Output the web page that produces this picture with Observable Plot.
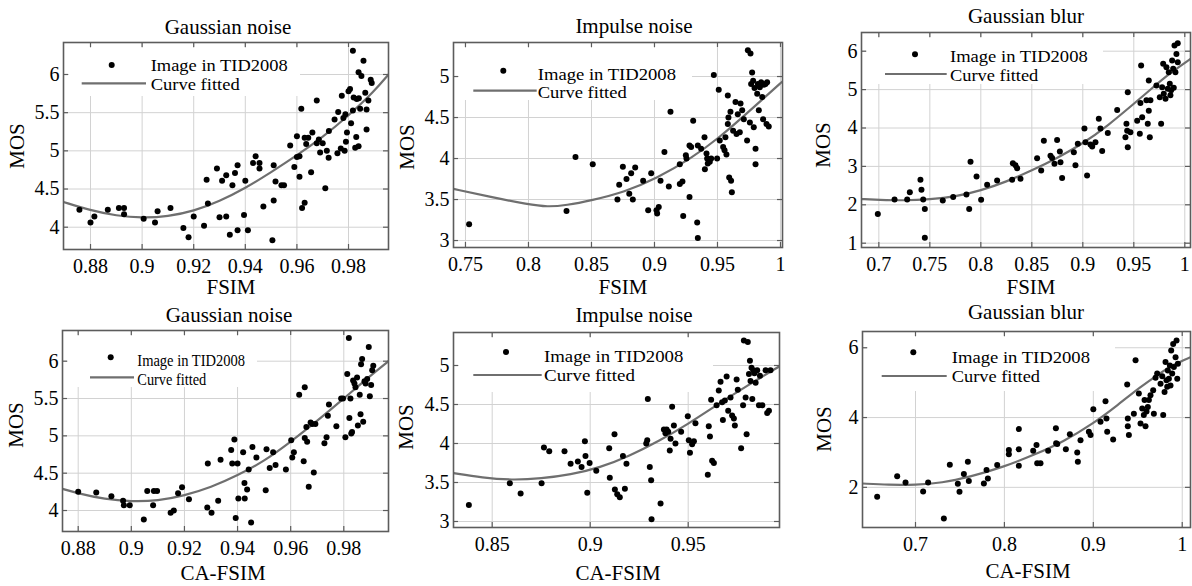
<!DOCTYPE html>
<html><head><meta charset="utf-8">
<script src="https://cdn.jsdelivr.net/npm/d3@7"></script>
<script src="https://cdn.jsdelivr.net/npm/@observablehq/plot@0.6"></script>
<style>
html,body{margin:0;padding:0;background:#fff;}
#root{position:relative;width:1192px;height:586px;overflow:hidden;font-family:"Liberation Serif","Times New Roman",serif;}
#root svg{position:absolute;overflow:visible;}
#root svg, #root svg text{font-family:"Liberation Serif","Times New Roman",serif !important;}
</style></head><body><div id="root"></div>
<script>
// ---------- data ----------
const titles = ["Gaussian noise","Impulse noise","Gaussian blur","Gaussian noise","Impulse noise","Gaussian blur"];
const xLabels = ["FSIM","FSIM","FSIM","CA-FSIM","CA-FSIM","CA-FSIM"];
const yLabel = "MOS";
const legendLabels = ["Image in TID2008","Curve fitted"];

const xTicksGN = [0.88,0.9,0.92,0.94,0.96,0.98];
const yTicksGN = [4,4.5,5,5.5,6];
const xTicksIN = [0.75,0.8,0.85,0.9,0.95,1];
const yTicksIN = [3,3.5,4,4.5,5];
const xTicksGB = [0.7,0.75,0.8,0.85,0.9,0.95,1];
const yTicksGB = [1,2,3,4,5,6];
const xTicksGN2 = [0.88,0.9,0.92,0.94,0.96,0.98];
const yTicksGN2 = [4,4.5,5,5.5,6];
const xTicksIN2 = [0.85,0.9,0.95];
const yTicksIN2 = [3,3.5,4,4.5,5];
const xTicksGB2 = [0.7,0.8,0.9,1];
const yTicksGB2 = [2,4,6];

const gnFSIM = [[0.8757,4.23],[0.88,4.06],[0.8815,4.14],[0.8867,4.23],[0.891,4.25],[0.893,4.25],[0.893,4.17],[0.9006,4.11],[0.905,4.06],[0.906,4.21],[0.911,4.25],[0.916,3.99],[0.918,3.87],[0.92,4.14],[0.924,4.02],[0.925,4.62],[0.9255,4.31],[0.929,4.77],[0.93,4.13],[0.931,4.61],[0.9326,4.68],[0.9326,4.14],[0.934,3.9],[0.935,4.55],[0.936,4.71],[0.937,4.81],[0.937,3.96],[0.94,4.61],[0.9395,4.16],[0.941,3.96],[0.943,4.84],[0.944,4.93],[0.9455,4.84],[0.9455,4.77],[0.947,4.27],[0.9505,3.83],[0.951,4.81],[0.951,4.35],[0.9517,4.6],[0.954,4.55],[0.955,4.55],[0.9574,5.07],[0.959,4.79],[0.96,5.19],[0.96,4.92],[0.961,4.93],[0.961,4.66],[0.9617,5.55],[0.962,4.25],[0.963,4.32],[0.963,5.17],[0.9636,5.09],[0.9644,5.17],[0.9655,4.72],[0.966,5.24],[0.9677,5.66],[0.9677,5.1],[0.9685,5.15],[0.969,4.98],[0.97,5.1],[0.971,4.51],[0.9716,5.0],[0.9723,4.91],[0.9724,5.26],[0.9746,5.41],[0.9757,4.97],[0.976,5.51],[0.977,5.03],[0.9774,5.72],[0.978,5.43],[0.9785,5.0],[0.9788,5.48],[0.979,5.12],[0.9794,5.24],[0.98,5.78],[0.9806,5.81],[0.981,5.36],[0.9817,5.53],[0.9817,6.31],[0.982,5.7],[0.9826,5.04],[0.983,5.18],[0.9832,5.68],[0.9839,5.06],[0.9839,6.03],[0.984,5.69],[0.9845,5.55],[0.985,5.98],[0.9858,6.18],[0.9865,5.76],[0.987,5.54],[0.987,5.28],[0.9877,5.66],[0.9886,5.93],[0.989,5.89]];
const gnFSIMFit = [[0.8695,4.33],[0.88,4.22],[0.89,4.15],[0.9,4.12],[0.91,4.14],[0.92,4.21],[0.93,4.34],[0.94,4.51],[0.95,4.72],[0.96,4.94],[0.97,5.18],[0.98,5.46],[0.99,5.78],[0.9955,6.0]];

const inFSIM = [[0.7529,3.20],[0.8302,3.36],[0.8373,4.02],[0.851,3.93],[0.8706,3.50],[0.872,3.68],[0.8749,3.90],[0.8778,3.75],[0.88,3.57],[0.8815,3.82],[0.8828,3.50],[0.8847,3.89],[0.891,3.73],[0.895,3.37],[0.8974,3.82],[0.9016,3.37],[0.9021,3.33],[0.9034,3.41],[0.9048,3.73],[0.9079,4.08],[0.9114,3.66],[0.9127,4.57],[0.9201,3.93],[0.9201,3.69],[0.9222,3.72],[0.9228,3.30],[0.9249,4.04],[0.9254,4.0],[0.9278,3.53],[0.9278,4.16],[0.9291,4.14],[0.9307,4.46],[0.9339,3.22],[0.9344,3.03],[0.9344,4.16],[0.937,4.12],[0.9397,4.26],[0.94,3.87],[0.9413,4.06],[0.9418,4.0],[0.9423,3.94],[0.9439,3.96],[0.945,4.0],[0.9471,5.02],[0.9497,4.0],[0.951,4.84],[0.9518,4.22],[0.9545,4.14],[0.9556,4.10],[0.9563,4.26],[0.9571,4.05],[0.9582,4.77],[0.9582,4.42],[0.9587,4.5],[0.9593,3.77],[0.9603,4.57],[0.9608,3.73],[0.9614,3.59],[0.9624,4.34],[0.9643,4.69],[0.9651,4.30],[0.9661,4.54],[0.9677,4.32],[0.9683,4.67],[0.9696,4.59],[0.9709,4.48],[0.9735,4.22],[0.9741,5.32],[0.9762,5.28],[0.9757,4.44],[0.9767,4.91],[0.9775,5.05],[0.9783,4.95],[0.9788,4.38],[0.9794,4.86],[0.9802,4.12],[0.9802,3.93],[0.9815,4.79],[0.982,4.91],[0.9828,4.59],[0.9836,4.87],[0.9847,4.93],[0.9855,4.75],[0.9862,4.48],[0.9868,4.90],[0.9881,4.91],[0.9889,4.42],[0.9894,4.93],[0.9907,4.39]];
const inFSIMFit = [[0.7405,3.63],[0.77,3.53],[0.8,3.44],[0.815,3.41],[0.83,3.43],[0.85,3.49],[0.876,3.59],[0.902,3.76],[0.929,4.0],[0.951,4.25],[0.971,4.52],[0.987,4.74],[1.0016,4.94]];

const gbFSIM = [[0.699,1.76],[0.7154,2.14],[0.7278,2.14],[0.7304,2.33],[0.7408,2.65],[0.7418,2.39],[0.7435,2.14],[0.7451,1.89],[0.7451,1.14],[0.7627,2.11],[0.7729,2.20],[0.7859,2.27],[0.7886,1.89],[0.7899,3.12],[0.7958,2.74],[0.8003,2.13],[0.8062,2.52],[0.816,2.63],[0.8307,2.65],[0.8314,3.08],[0.834,3.03],[0.8356,2.95],[0.8389,2.68],[0.8552,3.21],[0.8592,2.89],[0.8618,3.67],[0.8683,3.28],[0.8699,3.22],[0.8722,3.07],[0.8748,3.69],[0.8775,3.39],[0.8781,3.11],[0.8797,2.70],[0.8912,3.37],[0.8928,3.03],[0.8951,3.59],[0.9016,3.99],[0.9026,3.63],[0.9042,2.76],[0.9075,3.57],[0.9092,3.52],[0.9124,3.63],[0.9157,4.24],[0.9173,3.99],[0.919,3.40],[0.9245,3.87],[0.9337,4.47],[0.9418,3.76],[0.9428,4.11],[0.9435,3.93],[0.9441,4.93],[0.9441,3.50],[0.9467,3.89],[0.9533,4.19],[0.9559,3.85],[0.9565,4.65],[0.9572,5.63],[0.9582,4.28],[0.9624,4.72],[0.9637,4.11],[0.9647,4.45],[0.9647,5.24],[0.9657,3.76],[0.9663,4.72],[0.9722,5.11],[0.9755,4.80],[0.9768,4.11],[0.9778,5.06],[0.9788,5.67],[0.9794,4.89],[0.9811,4.76],[0.982,5.58],[0.9833,5.02],[0.9843,5.45],[0.9853,5.15],[0.9859,4.85],[0.9866,4.98],[0.9876,5.76],[0.9886,5.54],[0.9892,5.05],[0.9899,6.15],[0.9908,5.45],[0.9918,5.93],[0.9931,6.21],[0.9931,5.71]];
const gbFSIMFit = [[0.683,2.15],[0.7,2.13],[0.725,2.11],[0.75,2.14],[0.775,2.21],[0.8,2.37],[0.825,2.6],[0.85,2.89],[0.875,3.22],[0.9,3.59],[0.925,4.07],[0.95,4.63],[0.9663,5.0],[0.985,5.42],[1.0056,5.8]];

const gnCA = [[0.88,4.25],[0.8868,4.24],[0.8925,4.19],[0.8969,4.13],[0.8972,4.07],[0.8994,4.07],[0.9047,3.88],[0.906,4.26],[0.9082,4.07],[0.9085,4.26],[0.9097,4.26],[0.9148,3.97],[0.916,4.0],[0.9176,4.23],[0.9191,4.31],[0.9217,4.15],[0.9286,4.04],[0.9288,4.63],[0.9302,3.97],[0.9327,4.13],[0.9336,4.68],[0.9376,4.81],[0.938,4.63],[0.9388,4.95],[0.9393,3.90],[0.94,4.63],[0.9403,4.16],[0.9421,4.78],[0.9426,4.37],[0.9427,4.16],[0.9436,4.28],[0.9442,4.55],[0.9451,3.84],[0.9456,4.85],[0.9471,4.71],[0.9506,4.27],[0.9509,4.82],[0.9521,4.57],[0.9534,4.78],[0.9543,4.61],[0.9582,4.55],[0.9602,4.94],[0.9606,4.71],[0.9612,4.78],[0.9632,5.55],[0.9649,4.66],[0.9653,4.97],[0.9653,5.65],[0.9659,5.12],[0.9662,4.92],[0.9668,4.32],[0.9675,5.18],[0.9681,5.16],[0.9687,4.51],[0.9693,5.16],[0.9727,4.90],[0.9735,4.98],[0.974,5.27],[0.9744,5.42],[0.9772,5.13],[0.979,5.50],[0.9797,5.50],[0.9806,4.98],[0.9813,5.83],[0.9819,6.31],[0.9821,5.24],[0.9825,5.50],[0.9828,5.03],[0.9831,5.05],[0.9835,5.74],[0.984,5.70],[0.9844,5.65],[0.985,5.78],[0.9853,5.14],[0.986,5.55],[0.9863,5.29],[0.9865,5.96],[0.9869,6.03],[0.9873,5.19],[0.9878,5.73],[0.9882,5.70],[0.9888,5.76],[0.9894,6.19],[0.9898,5.53],[0.9903,5.68],[0.9907,5.88],[0.9911,5.94]];
const gnCAFit = [[0.8741,4.29],[0.88,4.23],[0.89,4.15],[0.9,4.12],[0.91,4.13],[0.92,4.2],[0.93,4.31],[0.94,4.47],[0.95,4.66],[0.96,4.92],[0.97,5.2],[0.98,5.5],[0.9888,5.77],[0.9968,6.0]];

const inCA = [[0.8381,3.21],[0.859,3.49],[0.8645,3.36],[0.8752,3.49],[0.8764,3.95],[0.8791,3.90],[0.8869,3.90],[0.89,3.74],[0.8937,3.77],[0.8956,3.70],[0.8973,4.03],[0.8976,3.84],[0.8985,3.37],[0.8997,3.75],[0.9031,3.65],[0.9097,3.94],[0.91,3.56],[0.9124,4.12],[0.9126,3.41],[0.9138,3.35],[0.9151,3.31],[0.9167,3.84],[0.9177,3.42],[0.9185,3.74],[0.9286,4.0],[0.9291,4.04],[0.9294,4.57],[0.9304,3.70],[0.9311,3.53],[0.9313,3.03],[0.9359,3.23],[0.9376,4.18],[0.9384,4.13],[0.939,4.18],[0.9398,4.15],[0.9406,3.91],[0.941,4.06],[0.9418,4.47],[0.9427,4.23],[0.9435,4.0],[0.9464,4.15],[0.9498,4.35],[0.9503,4.04],[0.9509,3.88],[0.952,3.99],[0.9529,4.03],[0.9537,4.26],[0.96,3.60],[0.9605,4.22],[0.9611,4.09],[0.9617,4.56],[0.9622,3.78],[0.9631,3.75],[0.9645,4.49],[0.9656,4.68],[0.9665,4.79],[0.9673,4.53],[0.9677,4.30],[0.9687,4.55],[0.9696,4.86],[0.9704,4.42],[0.9716,4.59],[0.9724,4.36],[0.9733,4.32],[0.9738,4.23],[0.9747,4.82],[0.9753,4.69],[0.977,3.94],[0.978,4.49],[0.9784,5.32],[0.9793,4.59],[0.9798,4.12],[0.9804,5.30],[0.981,4.89],[0.9815,5.06],[0.9818,4.80],[0.9823,4.97],[0.9827,4.57],[0.9832,4.94],[0.9838,4.90],[0.9844,4.78],[0.9852,4.94],[0.9861,4.49],[0.9866,4.87],[0.9878,4.49],[0.9895,4.94],[0.9903,4.39],[0.9912,4.42],[0.992,4.94]];
const inCAFit = [[0.8303,3.62],[0.845,3.56],[0.86,3.53],[0.875,3.55],[0.89,3.60],[0.905,3.69],[0.92,3.84],[0.935,4.03],[0.95,4.25],[0.965,4.50],[0.98,4.74],[0.9966,4.99]];

const gbCA = [[0.6569,1.73],[0.6794,2.32],[0.6888,2.14],[0.7086,1.88],[0.7142,2.14],[0.7319,1.11],[0.7386,2.65],[0.7476,2.10],[0.7495,1.87],[0.7544,2.38],[0.7589,2.73],[0.76,2.18],[0.7769,2.11],[0.7799,2.50],[0.7814,2.25],[0.7919,2.64],[0.805,3.07],[0.805,2.95],[0.8162,3.67],[0.8162,3.09],[0.8162,2.62],[0.8324,3.05],[0.8361,3.21],[0.8369,2.69],[0.8406,2.69],[0.8492,3.05],[0.8579,3.69],[0.8582,3.26],[0.8594,3.24],[0.8691,3.09],[0.8736,3.52],[0.8819,3.0],[0.8826,2.73],[0.8856,3.35],[0.895,3.59],[0.8969,3.50],[0.9,4.24],[0.9081,3.88],[0.9137,4.47],[0.9148,3.97],[0.9156,3.59],[0.9223,3.37],[0.9381,4.95],[0.9388,3.97],[0.9388,3.75],[0.94,3.50],[0.9456,4.11],[0.9475,5.64],[0.9512,4.69],[0.9531,3.83],[0.955,4.26],[0.9568,4.07],[0.9576,4.50],[0.9587,3.75],[0.9598,4.17],[0.9613,4.30],[0.9625,4.50],[0.9643,4.64],[0.9673,4.78],[0.9681,4.11],[0.97,5.14],[0.9718,5.26],[0.9756,4.97],[0.9775,5.18],[0.9786,4.07],[0.9801,4.73],[0.9812,5.59],[0.9823,5.07],[0.9831,4.88],[0.9838,5.35],[0.985,5.11],[0.9861,5.49],[0.9868,4.92],[0.9876,5.92],[0.9887,5.26],[0.9898,6.11],[0.9906,5.45],[0.9925,5.73],[0.9936,6.21],[0.9944,5.11],[0.9951,5.54]];
const gbCAFit = [[0.6404,2.11],[0.67,2.07],[0.7,2.07],[0.73,2.13],[0.76,2.29],[0.8,2.59],[0.835,2.95],[0.865,3.29],[0.9,3.83],[0.927,4.35],[0.953,4.88],[0.975,5.27],[0.99,5.52],[1.0093,5.73]];

// ---------- layout ----------
const FONT = '"Liberation Serif","Times New Roman",serif';
const panels = [
  {pts: gnFSIM, fit: gnFSIMFit, xt: xTicksGN, yt: yTicksGN, f:[63,42,388,249], xd:[0.86953,0.9955], yd:[3.708,6.419],
   title:[228,34], xl:[231,294], yl:[17,146],
   leg:{box:[69,48,300,96], dot:[111.7,65], line:[81.7,146,83.3], tx:150.7, b1:71, b2:90, len:[137,89]}},
  {pts: inFSIM, fit: inFSIMFit, xt: xTicksIN, yt: yTicksIN, f:[453,42,782,247], xd:[0.7405,1.0016], yd:[2.915,5.415],
   title:[634,33], xl:[623,294], yl:[407,147],
   leg:{box:[459,48,692,100], dot:[503.3,70.7], line:[473.3,536.7,90.7], tx:537.7, b1:79.6, b2:98.4, len:[138.3,89]}},
  {pts: gbFSIM, fit: gbFSIMFit, xt: xTicksGB, yt: yTicksGB, f:[861,32,1190,247], xd:[0.683,1.0056], yd:[0.888,6.487],
   title:[1026,23], xl:[1031,294], yl:[823,145],
   leg:{box:[867,38,1103,84], dot:[915,54.3], line:[885,946.7,74], tx:950, b1:61.8, b2:80.8, len:[137.7,88.3]}},
  {pts: gnCA, fit: gnCAFit, xt: xTicksGN2, yt: yTicksGN2, f:[62,330,388,531], xd:[0.87409,0.99683], yd:[3.719,6.411],
   title:[229,322], xl:[223,580], yl:[16,425],
   leg:{box:[68,336,257,387], dot:[110.7,357.3], line:[90,134,377.3], tx:137.3, b1:366.2, b2:385.4, len:[107.7,69]}},
  {pts: inCA, fit: inCAFit, xt: xTicksIN2, yt: yTicksIN2, f:[453,332,779,527], xd:[0.83026,0.99658], yd:[2.923,5.423],
   title:[634,322], xl:[618,580], yl:[406,427],
   leg:{box:[459,338,713,392], dot:[506,352], line:[473.3,541.7,375], tx:544, b1:362.2, b2:381.2, len:[139.3,91]}},
  {pts: gbCA, fit: gbCAFit, xt: xTicksGB2, yt: yTicksGB2, f:[862,331,1190,527], xd:[0.6404,1.0093], yd:[0.849,6.466],
   title:[1026,319], xl:[1028,578], yl:[824,429],
   leg:{box:[868,337,1115,391], dot:[913.3,352.3], line:[881.7,946.7,376], tx:951.7, b1:363.4, b2:382.4, len:[138.3,88.3]}}
];

const root = document.getElementById("root");
const FRAME = "#5c5c5c", GRID = "#d2d2d2", CURVE = "#6f6f6f";

panels.forEach((p) => {
  const [L,T,R,B] = p.f;
  const ml = 60, mt = 10, mr = 10, mb = 40;
  const fw = R - L, fh = B - T;
  const X = d => d[0], Y = d => d[1];
  const svg = Plot.plot({
    width: fw + ml + mr, height: fh + mt + mb,
    marginLeft: ml, marginTop: mt, marginRight: mr, marginBottom: mb,
    x: {domain: p.xd, label: null},
    y: {domain: p.yd, label: null},
    style: {fontFamily: FONT, fontSize: "20px", background: "none", color: "#000", overflow: "visible"},
    marks: [
      Plot.gridX(p.xt, {stroke: GRID, strokeOpacity: 1, strokeWidth: 1}),
      Plot.gridY(p.yt, {stroke: GRID, strokeOpacity: 1, strokeWidth: 1}),
      Plot.line(p.fit, {x: X, y: Y, curve: "basis", stroke: CURVE, strokeWidth: 2.2, clip: true}),
      Plot.dot(p.pts, {x: X, y: Y, r: 3, fill: "#000", stroke: "none", clip: true}),
      Plot.tickX(p.xt, {x: d => d, stroke: FRAME, strokeWidth: 1.2, insetTop: fh - 5}),
      Plot.tickX(p.xt, {x: d => d, stroke: FRAME, strokeWidth: 1.2, insetBottom: fh - 5}),
      Plot.tickY(p.yt, {y: d => d, stroke: FRAME, strokeWidth: 1.2, insetRight: fw - 5}),
      Plot.tickY(p.yt, {y: d => d, stroke: FRAME, strokeWidth: 1.2, insetLeft: fw - 5}),
      Plot.frame({stroke: FRAME, strokeWidth: 1.6}),
      Plot.axisX(p.xt, {tickSize: 0, tickPadding: 9, fontSize: 20, fontFamily: FONT, label: null, tickFormat: d => String(d)}),
      Plot.axisY(p.yt, {tickSize: 0, tickPadding: 4, fontSize: 20, fontFamily: FONT, label: null, tickFormat: d => String(d)})
    ]
  });
  svg.style.left = (L - ml) + "px";
  svg.style.top = (T - mt) + "px";
  root.appendChild(svg);
});

// overlay: titles, axis labels, legends
const ov = d3.create("svg").attr("width", 1192).attr("height", 586)
  .style("left", "0px").style("top", "0px").attr("font-family", FONT);
panels.forEach((p, i) => {
  ov.append("text").attr("x", p.title[0]).attr("y", p.title[1]).attr("text-anchor", "middle")
    .attr("font-size", 21).text(titles[i]);
  ov.append("text").attr("x", p.xl[0]).attr("y", p.xl[1]).attr("text-anchor", "middle")
    .attr("font-size", 21).text(xLabels[i]);
  ov.append("text").attr("transform", `translate(${p.yl[0]},${p.yl[1]}) rotate(-90)`)
    .attr("text-anchor", "middle").attr("dy", "0.35em").attr("font-size", 21).text(yLabel);
  const lg = p.leg;
  ov.append("rect").attr("x", lg.box[0]).attr("y", lg.box[1])
    .attr("width", lg.box[2] - lg.box[0]).attr("height", lg.box[3] - lg.box[1]).attr("fill", "#fff");
  ov.append("circle").attr("cx", lg.dot[0]).attr("cy", lg.dot[1]).attr("r", 3).attr("fill", "#000");
  ov.append("line").attr("x1", lg.line[0]).attr("x2", lg.line[1]).attr("y1", lg.line[2]).attr("y2", lg.line[2])
    .attr("stroke", CURVE).attr("stroke-width", 2.2);
  ov.append("text").attr("x", lg.tx).attr("y", lg.b1).attr("font-size", 17)
    .attr("textLength", lg.len[0]).attr("lengthAdjust", "spacingAndGlyphs").text(legendLabels[0]);
  ov.append("text").attr("x", lg.tx).attr("y", lg.b2).attr("font-size", 17)
    .attr("textLength", lg.len[1]).attr("lengthAdjust", "spacingAndGlyphs").text(legendLabels[1]);
});
root.appendChild(ov.node());
</script>
</body></html>
